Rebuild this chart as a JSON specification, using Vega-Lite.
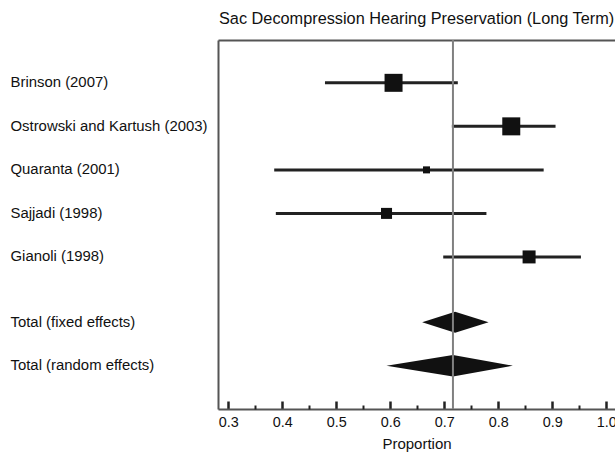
{
  "$schema": "https://vega.github.io/schema/vega-lite/v6.json",
  "width": 397,
  "height": 369,
  "autosize": "none",
  "padding": {"left": 218, "top": 40, "right": 0, "bottom": 45},
  "title": {
    "text": "Sac Decompression Hearing Preservation (Long Term)",
    "anchor": "start",
    "frame": "group",
    "fontSize": 16.3,
    "fontWeight": "normal",
    "font": "Liberation Sans",
    "color": "#111111",
    "baseline": "alphabetic",
    "offset": -1,
    "dx": 1
  },
  "config": {
    "view": {"stroke": null},
    "font": "Liberation Sans",
    "axis": {"grid": false}
  },
  "datasets": {
    "studies": [
      {"study": "Brinson (2007)", "row": 1, "est": 0.606, "lo": 0.479, "hi": 0.725, "weight": 32.8},
      {"study": "Ostrowski and Kartush (2003)", "row": 2, "est": 0.824, "lo": 0.714, "hi": 0.906, "weight": 32.8},
      {"study": "Quaranta (2001)", "row": 3, "est": 0.667, "lo": 0.385, "hi": 0.884, "weight": 5.0},
      {"study": "Sajjadi (1998)", "row": 4, "est": 0.593, "lo": 0.388, "hi": 0.778, "weight": 12.3},
      {"study": "Gianoli (1998)", "row": 5, "est": 0.857, "lo": 0.698, "hi": 0.953, "weight": 17.1}
    ],
    "pooled": [
      {"model": "Total (fixed effects)", "x": 0.659, "top": 6.5, "bottom": 6.5},
      {"model": "Total (fixed effects)", "x": 0.72, "top": 6.26, "bottom": 6.74},
      {"model": "Total (fixed effects)", "x": 0.782, "top": 6.5, "bottom": 6.5},
      {"model": "Total (random effects)", "x": 0.593, "top": 7.5, "bottom": 7.5},
      {"model": "Total (random effects)", "x": 0.716, "top": 7.255, "bottom": 7.745},
      {"model": "Total (random effects)", "x": 0.827, "top": 7.5, "bottom": 7.5}
    ],
    "summary": [{"pooled": 0.716}]
  },
  "layer": [
    {
      "data": {"name": "studies"},
      "mark": {"type": "rule", "color": "#222222", "strokeWidth": 3},
      "encoding": {
        "x": {
          "field": "lo",
          "type": "quantitative",
          "scale": {"domain": [0.2809, 1.0161], "nice": false, "zero": false},
          "axis": {
            "orient": "bottom",
            "values": [0.3, 0.4, 0.5, 0.6, 0.7, 0.8, 0.9, 1.0],
            "format": ".1f",
            "tickSize": -8,
            "tickWidth": 2.5,
            "tickColor": "#222222",
            "domainColor": "#555555",
            "domainWidth": 2,
            "labelFontSize": 14.4,
            "labelColor": "#111111",
            "labelPadding": 14,
            "title": "Proportion",
            "titleFontSize": 15,
            "titleFontWeight": "normal",
            "titleColor": "#111111",
            "titlePadding": 8
          }
        },
        "x2": {"field": "hi"},
        "y": {
          "field": "row",
          "type": "quantitative",
          "scale": {"domain": [0.016, 8.494], "reverse": true, "nice": false, "zero": false},
          "axis": {
            "values": [1, 2, 3, 4, 5, 6.5, 7.5],
            "labelExpr": "datum.value == 1 ? 'Brinson (2007)' : datum.value == 2 ? 'Ostrowski and Kartush (2003)' : datum.value == 3 ? 'Quaranta (2001)' : datum.value == 4 ? 'Sajjadi (1998)' : datum.value == 5 ? 'Gianoli (1998)' : datum.value == 6.5 ? 'Total (fixed effects)' : 'Total (random effects)'",
            "ticks": false,
            "labelAlign": "left",
            "labelBaseline": "middle",
            "labelPadding": 208,
            "labelFontSize": 14.9,
            "labelColor": "#111111",
            "labelLimit": 300,
            "domainColor": "#555555",
            "domainWidth": 2,
            "title": null
          }
        }
      }
    },
    {
      "data": {"name": "studies"},
      "mark": {"type": "point", "shape": "square", "filled": true, "color": "#111111", "opacity": 1},
      "encoding": {
        "x": {
          "field": "est",
          "type": "quantitative",
          "axis": {
            "orient": "bottom",
            "values": [0.35, 0.45, 0.55, 0.65, 0.75, 0.85, 0.95],
            "tickSize": -4,
            "tickWidth": 2,
            "tickColor": "#222222",
            "labels": false,
            "domain": false,
            "title": null
          }
        },
        "y": {"field": "row", "type": "quantitative"},
        "size": {
          "field": "weight",
          "type": "quantitative",
          "scale": {"domain": [0, 100], "range": [0, 987]},
          "legend": null
        }
      }
    },
    {
      "data": {"name": "pooled"},
      "mark": {"type": "area", "orient": "vertical", "color": "#111111", "opacity": 1},
      "encoding": {
        "x": {
          "field": "x",
          "type": "quantitative",
          "axis": {
            "orient": "top",
            "ticks": false,
            "labels": false,
            "title": null,
            "domainColor": "#555555",
            "domainWidth": 2
          }
        },
        "y": {"field": "top", "type": "quantitative"},
        "y2": {"field": "bottom"},
        "detail": {"field": "model", "type": "nominal"}
      }
    },
    {
      "data": {"name": "summary"},
      "mark": {"type": "rule", "color": "#808080", "strokeWidth": 2},
      "encoding": {
        "x": {"field": "pooled", "type": "quantitative", "axis": null}
      }
    }
  ],
  "resolve": {"axis": {"x": "independent"}, "scale": {"size": "independent"}}
}
